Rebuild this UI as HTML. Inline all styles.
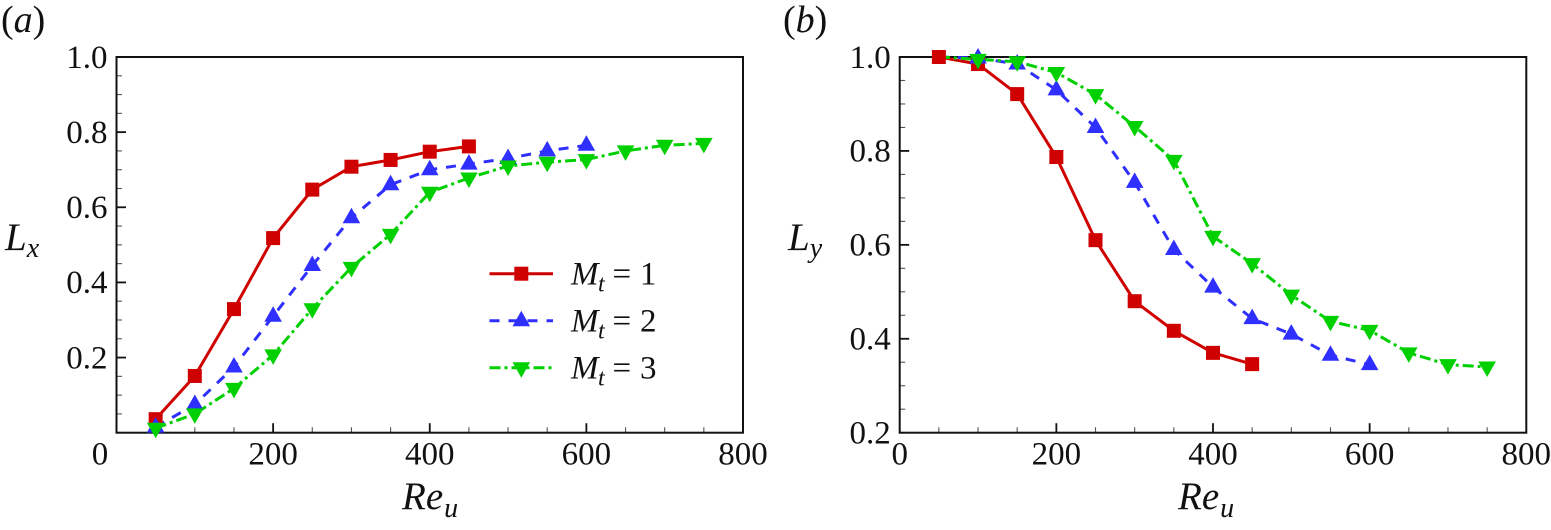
<!DOCTYPE html>
<html lang="en">
<head>
<meta charset="utf-8">
<title>Lx and Ly versus Re_u</title>
<style>
html,body{margin:0;padding:0;background:#fff}
svg{display:block;font-family:"Liberation Serif",serif;fill:#000}
text{fill:#111;font-family:"Liberation Serif",serif}
</style>
</head>
<body>
<svg id="chart" xmlns="http://www.w3.org/2000/svg" width="1551" height="530" viewBox="0 0 1551 530"></svg>
<script>
// Shared categories and tick labels
const reCategories = [50, 100, 150, 200, 250, 300, 350, 400, 450, 500, 550, 600, 650, 700, 750];
const xTickValues = [0, 200, 400, 600, 800];
const xTickLabels = ['0', '200', '400', '600', '800'];
const yTicksA = [0.2, 0.4, 0.6, 0.8, 1.0];
const yTicksB = [0.2, 0.4, 0.6, 0.8, 1.0];
const yTickLabelsA = ['0.2', '0.4', '0.6', '0.8', '1.0'];
const yTickLabelsB = ['0.2', '0.4', '0.6', '0.8', '1.0'];

// Panel (a) L_x values
const lxMt1 = [0.036, 0.151, 0.329, 0.518, 0.647, 0.708, 0.726, 0.748, 0.762];
const lxMt2 = [0.015, 0.075, 0.175, 0.310, 0.445, 0.572, 0.660, 0.700, 0.715, 0.730, 0.750, 0.765];
const lxMt3 = [0.012, 0.050, 0.118, 0.207, 0.330, 0.440, 0.528, 0.640, 0.678, 0.710, 0.720, 0.727, 0.750, 0.765, 0.770];

// Panel (b) L_y values
const lyMt1 = [1.000, 0.985, 0.921, 0.787, 0.610, 0.480, 0.417, 0.370, 0.346];
const lyMt2 = [1.000, 0.998, 0.985, 0.930, 0.850, 0.733, 0.590, 0.510, 0.443, 0.410, 0.365, 0.345];
const lyMt3 = [1.000, 0.995, 0.990, 0.967, 0.920, 0.852, 0.780, 0.618, 0.560, 0.493, 0.437, 0.418, 0.370, 0.345, 0.340];

// Legend
const legendLabels = ['1', '2', '3'];

const NS = 'http://www.w3.org/2000/svg';
const root = document.getElementById('chart');
const RED = '#cf0000', BLUE = '#2f2fff', GREEN = '#00d000';
const styles = [
  {color: RED, dash: '', shape: 'square', key: 'mt1'},
  {color: BLUE, dash: '10 9', shape: 'up', key: 'mt2'},
  {color: GREEN, dash: '11 4 3 4', shape: 'down', key: 'mt3'}
];

function mk(tag, attrs, parent) {
  const el = document.createElementNS(NS, tag);
  for (const k in attrs) el.setAttribute(k, attrs[k]);
  (parent || root).appendChild(el);
  return el;
}

function marker(parent, shape, cx, cy, color) {
  let el;
  if (shape === 'square') {
    el = mk('rect', {x: cx - 7, y: cy - 7, width: 14, height: 14, fill: color}, parent);
  } else if (shape === 'up') {
    el = mk('polygon', {points: (cx) + ',' + (cy - 10) + ' ' + (cx + 8.8) + ',' + (cy + 5.5) + ' ' + (cx - 8.8) + ',' + (cy + 5.5), fill: color}, parent);
  } else {
    el = mk('polygon', {points: (cx - 8.8) + ',' + (cy - 5.5) + ' ' + (cx + 8.8) + ',' + (cy - 5.5) + ' ' + (cx) + ',' + (cy + 10), fill: color}, parent);
  }
  
  
  return el;
}

function label(parent, x, y, txt, size, anchor, name) {
  const t = mk('text', {x: x, y: y, 'font-size': size, 'text-anchor': anchor}, parent);
  t.textContent = txt;
  
  
  return t;
}

function subscripted(parent, x, y, main, sub, size, subSize, name, dx, dy) {
  const t = mk('text', {x: x, y: y, 'font-size': size, 'font-style': 'italic'}, parent);
  
  
  const a = mk('tspan', {}, t);
  a.textContent = main;
  const b = mk('tspan', {dx: dx, dy: dy, 'font-size': subSize}, t);
  b.textContent = sub;
  return t;
}

function panel(cfg) {
  const g = mk('g', {});
  
  

  const sx = v => cfg.left + (v - 0) / 800 * (cfg.right - cfg.left);
  const sy = v => cfg.bottom - (v - cfg.yMin) / (1 - cfg.yMin) * (cfg.bottom - cfg.top);

  // panel letter
  const pl = mk('text', {x: cfg.letterX, y: 32, 'font-size': 38}, g);
  
  
  const p1 = mk('tspan', {}, pl); p1.textContent = '(';
  const p2 = mk('tspan', {'font-style': 'italic'}, pl); p2.textContent = cfg.letter;
  const p3 = mk('tspan', {}, pl); p3.textContent = ')';

  // minor ticks
  for (let v = 50; v < 800; v += 50) {
    if (v % 200 === 0) continue;
    const t = mk('line', {x1: sx(v), x2: sx(v), y1: cfg.bottom, y2: cfg.bottom - 5.5, stroke: '#555', 'stroke-width': 1.1}, g);
    
    
  }
  for (let i = 1; i < (1 - cfg.yMin) / 0.05 + 0.5; i++) {
    const v = cfg.yMin + i * 0.05;
    if (Math.abs(v * 5 - Math.round(v * 5)) < 1e-6) continue;
    const t = mk('line', {x1: cfg.left, x2: cfg.left + 5.5, y1: sy(v), y2: sy(v), stroke: '#555', 'stroke-width': 1.1}, g);
    
    
  }

  // major ticks and labels
  xTickValues.forEach((v, i) => {
    if (v !== 0 && v !== 800) {
      const t = mk('line', {x1: sx(v), x2: sx(v), y1: cfg.bottom, y2: cfg.bottom - 9.5, stroke: '#111', 'stroke-width': 1.8}, g);
      
      
    }
    const shift = (v === 0) ? cfg.zeroShift : 0;
    label(g, sx(v) + shift, 464.5, xTickLabels[i], 33, 'middle', 'x-tick-label');
  });
  cfg.yTicks.forEach((v, i) => {
    if (v !== 1 && v !== cfg.yMin) {
      const t = mk('line', {x1: cfg.left, x2: cfg.left + 9.5, y1: sy(v), y2: sy(v), stroke: '#111', 'stroke-width': 1.8}, g);
      
      
    }
    label(g, cfg.left - 9, sy(v) + 10.8, cfg.yLabels[i], 33, 'end', 'y-tick-label');
  });

  // plot frame
  const frame = mk('rect', {x: cfg.left, y: cfg.top, width: cfg.right - cfg.left, height: cfg.bottom - cfg.top, fill: 'none', stroke: '#111', 'stroke-width': 2}, g);
  
  

  // lines
  cfg.series.forEach((vals, s) => {
    const pts = vals.map((v, i) => sx(reCategories[i]) + ',' + sy(v)).join(' ');
    const pl2 = mk('polyline', {points: pts, fill: 'none', stroke: styles[s].color, 'stroke-width': 3, 'stroke-linejoin': 'round'}, g);
    if (styles[s].dash) pl2.setAttribute('stroke-dasharray', styles[s].dash);
    
    
  });
  // markers
  cfg.series.forEach((vals, s) => {
    vals.forEach((v, i) => {
      if (i < cfg.markerStart[s]) return;
      marker(g, styles[s].shape, sx(reCategories[i]), sy(v), styles[s].color);
    });
  });

  // axis titles
  subscripted(g, cfg.xTitleX, 509, 'Re', 'u', 39, 28, 'x-axis-title', 1, 8);
  subscripted(g, cfg.yTitleX, 250, cfg.yTitle, cfg.yTitleSub, 39, 28, 'y-axis-title', 0, 7);
  return {g, sx, sy};
}

panel({
  name: 'panel-a', letter: 'a', letterX: 1, left: 116.5, right: 743, top: 57, bottom: 432.7, yMin: 0,
  zeroShift: -16.5, yTicks: yTicksA, yLabels: yTickLabelsA,
  series: [lxMt1, lxMt2, lxMt3], markerStart: [0, 0, 0],
  xTitleX: 402, yTitleX: 5, yTitle: 'L', yTitleSub: 'x'
});

panel({
  name: 'panel-b', letter: 'b', letterX: 783, left: 899.7, right: 1526.3, top: 57, bottom: 432.7, yMin: 0.2,
  zeroShift: 0, yTicks: yTicksB, yLabels: yTickLabelsB,
  series: [lyMt1, lyMt2, lyMt3], markerStart: [0, 1, 1],
  xTitleX: 1178, yTitleX: 788, yTitle: 'L', yTitleSub: 'y'
});

// Legend
const lg = mk('g', {});


legendLabels.forEach((lab, i) => {
  const y = 273.7 + i * 47;
  const s = styles[i];
  const e = mk('g', {}, lg);
  
  
  const l = mk('line', {x1: 489.5, x2: 553, y1: y, y2: y, stroke: s.color, 'stroke-width': 3}, e);
  if (s.dash) l.setAttribute('stroke-dasharray', s.dash);
  
  
  marker(e, s.shape, 521.3, y, s.color);
  const t = mk('text', {x: 571, y: y + 10.6, 'font-size': 33}, e);
  
  
  const m = mk('tspan', {'font-style': 'italic'}, t); m.textContent = 'M';
  const st = mk('tspan', {'font-style': 'italic', 'font-size': 24, x: 598, dy: 7}, t); st.textContent = 't';
  const eq = mk('tspan', {x: 612.5, dy: -7}, t); eq.textContent = '=';
  const dg = mk('tspan', {x: 640}, t); dg.textContent = lab;
});
</script>
</body>
</html>
